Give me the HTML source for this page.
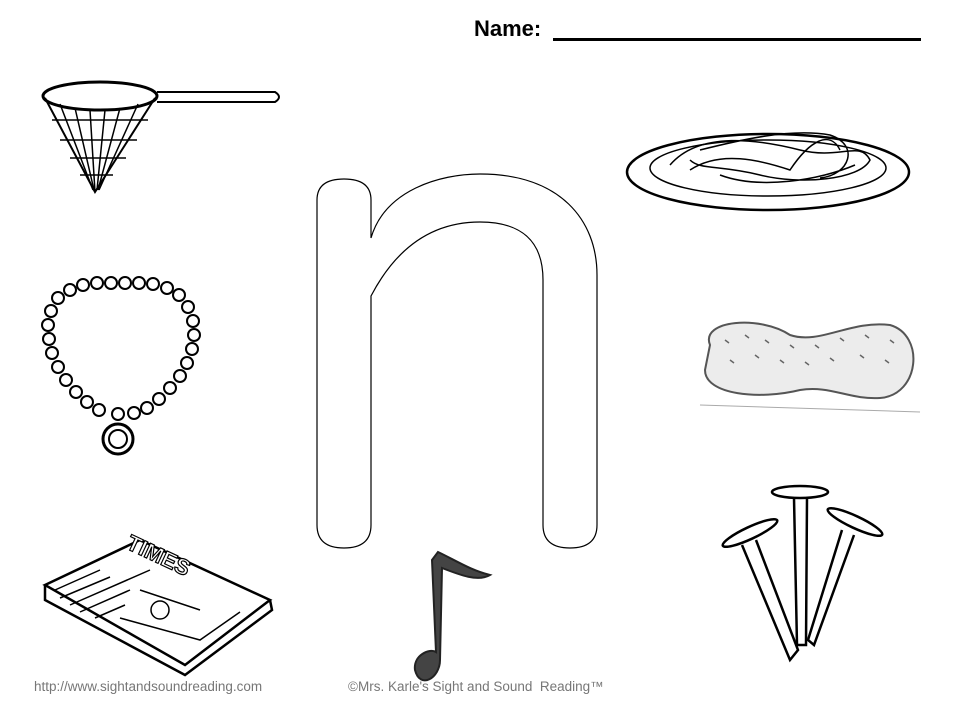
<!DOCTYPE html>
<html><head><meta charset="utf-8"><style>
body{margin:0;background:#fff;}
.wrap{position:relative;width:960px;height:720px;overflow:hidden;font-family:"Liberation Sans",sans-serif;}
.name{position:absolute;left:474px;top:16px;font-size:22px;font-weight:bold;color:#000;}
.ul{position:absolute;left:553px;top:38px;width:368px;height:3px;background:#000;}
.f{position:absolute;top:679px;font-size:13.5px;color:#777;}
</style></head><body><div class="wrap">
<div class="name">Name:</div><div class="ul"></div>
<svg width="960" height="720" style="position:absolute;left:0;top:0" fill="none" stroke="#000" stroke-width="2">
<path stroke-width="1.2" d="M317,200 Q317,179 344,179 Q371,179 371,200 L371,238 C385,190 440,174 480,174 C560,174 597,220 597,275 L597,525 Q597,548 570,548 Q543,548 543,525 L543,280 C543,240 520,222 480,222 C430,222 395,250 371,296 L371,525 Q371,548 344,548 Q317,548 317,525 Z"/>
<!-- net -->
<ellipse cx="100" cy="96" rx="57" ry="14" stroke-width="3"/>
<path d="M45,98 L95,192 L155,98 M157,92 L275,92 Q283,97 275,102 L157,102"/>
<path stroke-width="1.5" d="M60,104 L93,190 M75,108 L94,190 M90,110 L95,192 M105,110 L97,190 M120,108 L98,190 M138,104 L99,190 M52,120 L148,120 M60,140 L137,140 M70,158 L126,158 M80,175 L113,175"/>
<!-- plate & spaghetti -->
<ellipse cx="768" cy="172" rx="141" ry="38" stroke-width="2.5"/>
<ellipse cx="768" cy="168" rx="118" ry="28" stroke-width="1.5"/>
<path stroke-width="1.5" d="M670,165 C700,130 760,140 800,150 C840,160 860,140 870,160 C860,180 800,185 760,175 C720,165 700,170 690,160 M700,150 C740,140 790,128 830,135 C860,145 850,175 820,178 M720,175 C760,190 820,180 855,165 M690,170 C720,150 760,160 790,170 C810,140 830,130 840,150"/>
<!-- necklace -->
<g stroke-width="2">
<circle cx="70" cy="290" r="6"/><circle cx="83" cy="285" r="6"/><circle cx="97" cy="283" r="6"/><circle cx="111" cy="283" r="6"/><circle cx="125" cy="283" r="6"/><circle cx="139" cy="283" r="6"/><circle cx="153" cy="284" r="6"/><circle cx="167" cy="288" r="6"/><circle cx="179" cy="295" r="6"/>
<circle cx="58" cy="298" r="6"/><circle cx="51" cy="311" r="6"/><circle cx="48" cy="325" r="6"/><circle cx="49" cy="339" r="6"/><circle cx="52" cy="353" r="6"/><circle cx="58" cy="367" r="6"/><circle cx="66" cy="380" r="6"/><circle cx="76" cy="392" r="6"/><circle cx="87" cy="402" r="6"/><circle cx="99" cy="410" r="6"/>
<circle cx="188" cy="307" r="6"/><circle cx="193" cy="321" r="6"/><circle cx="194" cy="335" r="6"/><circle cx="192" cy="349" r="6"/><circle cx="187" cy="363" r="6"/><circle cx="180" cy="376" r="6"/><circle cx="170" cy="388" r="6"/><circle cx="159" cy="399" r="6"/><circle cx="147" cy="408" r="6"/><circle cx="134" cy="413" r="6"/>
<circle cx="118" cy="414" r="6"/>
<circle cx="118" cy="439" r="15" stroke-width="3"/><circle cx="118" cy="439" r="9"/>
</g>
<!-- peanut -->
<path stroke="#555" stroke-width="2" fill="#ececec" d="M710,345 C700,320 760,315 790,335 C820,345 850,320 890,325 C925,335 920,395 880,398 C850,400 830,385 800,390 C760,400 705,395 705,370 Z"/>
<path stroke="#666" stroke-width="1.5" d="M725,340 l4,3 M745,335 l4,3 M765,340 l4,3 M790,345 l4,3 M815,345 l4,3 M840,338 l4,3 M865,335 l4,3 M890,340 l4,3 M730,360 l4,3 M755,355 l4,3 M780,360 l4,3 M805,362 l4,3 M830,358 l4,3 M860,355 l4,3 M885,360 l4,3"/>
<path stroke="#aaa" stroke-width="1" d="M700,405 L920,412"/>
<!-- newspaper -->
<path stroke-width="2.5" d="M45,585 L140,540 L270,600 L185,665 Z M45,585 L45,600 L185,675 L272,610 L270,600"/>
<path stroke-width="1.5" d="M55,590 L100,570 M60,598 L110,577 M70,605 L150,570 M80,612 L130,590 M95,618 L125,605 M120,618 L200,640 L240,612 M140,590 L200,610"/>
<text x="125" y="548" transform="rotate(25 125 548)" font-family="Liberation Sans" font-weight="bold" font-size="22" fill="#fff" stroke="#000" stroke-width="1.2">TIMES</text>
<circle cx="160" cy="610" r="9" stroke-width="1.5"/>
<!-- music note -->
<path fill="#444" stroke="#222" d="M432,560 L438,552 C455,560 470,570 490,575 C478,582 460,575 442,568 L440,660 C440,678 420,690 415,670 C413,655 430,648 436,652 Z"/>
<!-- nails -->
<g stroke-width="2.5">
<ellipse cx="800" cy="492" rx="28" ry="6"/><path d="M794,498 L797,645 L806,645 L807,498"/>
<ellipse cx="750" cy="533" rx="30" ry="6" transform="rotate(-25 750 533)"/><path d="M742,545 L790,660 L798,650 L756,540"/>
<ellipse cx="855" cy="522" rx="30" ry="6" transform="rotate(25 855 522)"/><path d="M842,530 L808,640 L814,645 L854,535"/>
</g>
</svg>
<div class="f" style="left:34px">http://www.sightandsoundreading.com</div>
<div class="f" style="left:348px">©Mrs. Karle's Sight and Sound&nbsp; Reading™</div>
</div></body></html>
